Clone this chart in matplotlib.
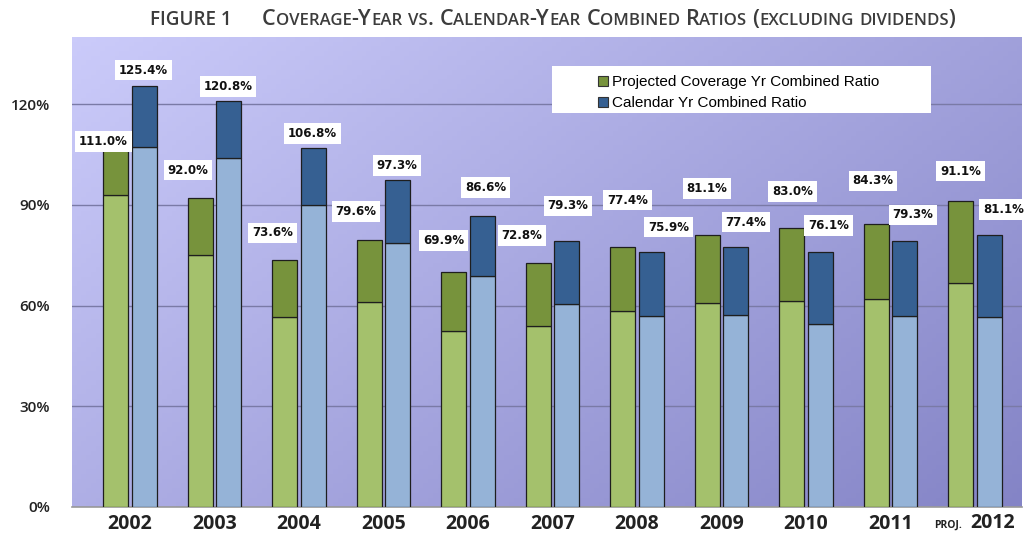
import numpy as np
import matplotlib
matplotlib.use('Agg')
import matplotlib.pyplot as plt
from matplotlib.patches import Patch, Rectangle

# data
years = ['2002', '2003', '2004', '2005', '2006', '2007', '2008', '2009', '2010', '2011', '2012']
cov_total = [111.0, 92.0, 73.6, 79.6, 69.9, 72.8, 77.4, 81.1, 83.0, 84.3, 91.1]
cov_base = [93.0, 75.1, 56.7, 61.0, 52.4, 53.8, 58.5, 60.7, 61.5, 62.1, 66.6]
cal_total = [125.4, 120.8, 106.8, 97.3, 86.6, 79.3, 75.9, 77.4, 76.1, 79.3, 81.1]
cal_base = [107.2, 104.0, 90.0, 78.5, 68.9, 60.6, 56.8, 57.2, 54.6, 56.8, 56.5]

# label offsets (pixels) from the bar top
cov_off = [(-12, -7), (-12, 28), (-12, 27), (-13, 28), (-10, 32), (-16, 27),
           (5, 47), (0, 46), (1, 37), (-3, 43), (0, 30)]
cal_off = [(-1, 16), (-1, 15), (-1, 15), (-1, 15), (3, 29), (1, 35),
           (17, 25), (10, 25), (8, 26), (8, 26), (14, 25)]

W, H = 1026, 537
fig = plt.figure(figsize=(W / 100, H / 100), dpi=100)
ax = fig.add_axes([72 / W, 30 / H, 950 / W, 470 / H])
renderer = fig.canvas.get_renderer()

# gradient background
nx, ny = 200, 100
u = np.linspace(0, 1, nx)[None, :]
v = np.linspace(0, 1, ny)[:, None]
t = (u * 0.6 + v * 0.4)
c1 = np.array([203, 203, 250]) / 255
c2 = np.array([132, 132, 198]) / 255
grad = c1[None, None, :] * (1 - t[..., None]) + c2[None, None, :] * t[..., None]
ax.imshow(grad, extent=[0, 1, 0, 1], transform=ax.transAxes, aspect='auto', zorder=0)

x = np.arange(len(years))
off, bw = 0.17, 0.296
green_l, green_d = '#a4c16c', '#77933c'
blue_l, blue_d = '#95b3d7', '#366092'
ec = '#1e1e1e'

cov_top = np.array(cov_total) - np.array(cov_base)
cal_top = np.array(cal_total) - np.array(cal_base)
ax.bar(x - off, cov_base, bw, color=green_l, edgecolor=ec, linewidth=0.9, zorder=3)
ax.bar(x - off, cov_top, bw, bottom=cov_base, color=green_d, edgecolor=ec, linewidth=0.9, zorder=3)
ax.bar(x + off, cal_base, bw, color=blue_l, edgecolor=ec, linewidth=0.9, zorder=3)
ax.bar(x + off, cal_top, bw, bottom=cal_base, color=blue_d, edgecolor=ec, linewidth=0.9, zorder=3)

lbl_font = dict(fontsize=8.5, fontweight='bold', color='#111111', family='DejaVu Sans',
                ha='center', va='center', zorder=6,
                bbox=dict(boxstyle='square,pad=0.32', fc='white', ec='none'))
for i in range(len(years)):
    ax.annotate(f'{cov_total[i]:.1f}%', (x[i] - off, cov_total[i]), xytext=cov_off[i],
                textcoords='offset pixels', **lbl_font)
    ax.annotate(f'{cal_total[i]:.1f}%', (x[i] + off, cal_total[i]), xytext=cal_off[i],
                textcoords='offset pixels', **lbl_font)

ax.set_xlim(-0.686, 10.556)
ax.set_ylim(0, 140)
ax.set_yticks([0, 30, 60, 90, 120])
ax.set_yticklabels(['0%', '30%', '60%', '90%', '120%'], fontsize=11,
                   family='Open Sans', fontweight='semibold', color='#222222')
ax.set_xticks(x)
ax.set_xticklabels(years[:-1] + [''], fontsize=14, family='Open Sans', fontweight='bold', color='#222222')
ax.tick_params(axis='y', length=0, pad=16)
ax.tick_params(axis='x', length=0, pad=5)
ax.grid(axis='y', color='#7a7aa6', linewidth=1, zorder=1)
ax.set_axisbelow(True)
for s in ['top', 'right', 'left']:
    ax.spines[s].set_visible(False)
ax.spines['bottom'].set_color('#9a9a9a')
ax.spines['bottom'].set_linewidth(1.2)

# last category: "PROJ. 2012"
ax.annotate(years[-1], (x[-1], 0), xytext=(18, -21), textcoords='offset pixels',
            fontsize=14, family='Open Sans', fontweight='bold', color='#222222',
            ha='center', va='baseline', annotation_clip=False)
ax.annotate('PROJ.', (x[-1], 0), xytext=(-27, -21), textcoords='offset pixels',
            fontsize=7.5, family='Open Sans', fontweight='bold', color='#222222',
            ha='center', va='baseline', annotation_clip=False)

# legend on a white panel
ax.add_patch(Rectangle((0.505, 0.838), 0.399, 0.100, transform=ax.transAxes,
                       facecolor='white', edgecolor='none', zorder=5))
handles = [Patch(facecolor=green_d, edgecolor='#333333', linewidth=0.8),
           Patch(facecolor=blue_d, edgecolor='#333333', linewidth=0.8)]
leg = ax.legend(handles, ['Projected Coverage Yr Combined Ratio', 'Calendar Yr Combined Ratio'],
                loc='upper left', bbox_to_anchor=(0.546, 0.935), frameon=False,
                prop=dict(family='Liberation Sans', size=11), borderpad=0,
                handlelength=0.65, handleheight=0.65, handletextpad=0.25, labelspacing=0.45)
leg.set_zorder(7)

# title
title_kw = dict(fontweight='semibold', family='Open Sans', color='#3c3c3c')

fig_t = fig.text(150 / W, 1 - 25 / H, 'FIGURE 1', fontsize=12, ha='left', va='baseline', **title_kw)
fw = fig_t.get_window_extent(renderer).width
fig_t.set_fontsize(12 * 82 / fw)


def small_caps(xpix, ypix, s, big, small, **kw):
    runs = []
    for ch in s:
        kind = 'sp' if ch == ' ' else ('lo' if ch.islower() else 'up')
        if runs and runs[-1][1] == kind:
            runs[-1][0] += ch
        else:
            runs.append([ch, kind])
    texts = []
    x0 = xpix
    for txt, kind in runs:
        if kind == 'sp':
            xpix += len(txt) * big * 0.26 * 100 / 72
            continue
        size = small if kind == 'lo' else big
        tt = fig.text(xpix / W, 1 - ypix / H, txt.upper(), fontsize=size, va='baseline', ha='left', **kw)
        xpix += tt.get_window_extent(renderer).width
        texts.append(tt)
    return xpix - x0, texts


title_str = 'Coverage-Year vs. Calendar-Year Combined Ratios (excluding dividends)'
w0, tmp = small_caps(262, 25, title_str, 11, 8.5, **title_kw)
for tt in tmp:
    tt.remove()
k = 690 / w0
small_caps(262, 25, title_str, 11 * k, 8.5 * k, **title_kw)

fig.savefig('out.png', dpi=100)
